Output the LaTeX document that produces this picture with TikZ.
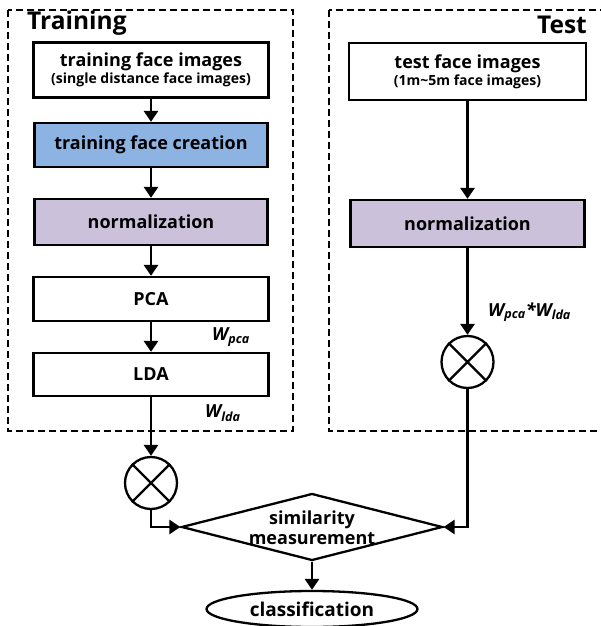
\documentclass[tikz,border=0pt]{standalone}
\usepackage{fontspec}
\setmainfont{Open Sans}
\usetikzlibrary{arrows.meta,shapes.geometric}
\definecolor{boxblue}{HTML}{8DB3E2}
\definecolor{boxlav}{HTML}{CCC1DA}
\tikzset{
  stepbox/.style={draw, line width=2.3pt, inner sep=0pt, font=\bfseries\fontsize{18}{20}\selectfont, align=center},
  frame/.style={draw, line width=2.1pt, dash pattern=on 7pt off 4pt},
  flow/.style={line width=2.8pt, -{Triangle[width=14pt,length=11pt]}},
  mult/.style={circle, draw, line width=2.3pt, minimum size=52pt, inner sep=0pt},
  wlab/.style={font=\bfseries\itshape\fontsize{18}{20}\selectfont, inner sep=0pt},
  title/.style={font=\bfseries\fontsize{24.5}{26}\selectfont, inner sep=0pt}
}
\newcommand{\subtxt}[1]{{\fontsize{14}{15}\selectfont #1}}
\begin{document}
\begin{tikzpicture}[x=1pt,y=-1pt]
\useasboundingbox (0,0) rectangle (601,626);
% frames
\draw[frame] (8,10) rectangle (293,431);
\draw[frame] (329,10) rectangle (608,431);
\node[title, anchor=west] (trainlab) at (27,23) {Training};
\node[title, anchor=east] (testlab) at (587,25) {Test};
% training column
\node[stepbox, minimum width=235pt, minimum height=55pt] (b1) at (151,70) {training face images\\[-3pt]\subtxt{(single distance face images)}};
\node[stepbox, fill=boxblue, minimum width=233pt, minimum height=44pt] (b2) at (151,145) {training face creation};
\node[stepbox, fill=boxlav, minimum width=233pt, minimum height=46pt] (b3) at (151,222) {normalization};
\node[stepbox, minimum width=235pt, minimum height=44pt] (pca) at (151,299) {PCA};
\node[stepbox, minimum width=235pt, minimum height=43pt] (lda) at (151,374.5) {LDA};
\node[wlab, anchor=west] (wpca) at (212,337) {W\textsubscript{pca}};
\node[wlab, anchor=west] (wlda) at (205,413) {W\textsubscript{lda}};
\node[mult] (m1) at (151,483) {};
\draw[line width=2.3pt] (m1.45) -- (m1.225) (m1.135) -- (m1.315);
% test column
\node[stepbox, minimum width=237pt, minimum height=57pt] (t1) at (467.5,71.5) {test face images\\[-3pt]\subtxt{(1m\textasciitilde5m face images)}};
\node[stepbox, fill=boxlav, minimum width=234pt, minimum height=47pt] (t2) at (467.5,223.5) {normalization};
\node[wlab, anchor=west] (wpl) at (488,312) {W\textsubscript{pca}*W\textsubscript{lda}};
\node[mult] (m2) at (467.5,362) {};
\draw[line width=2.3pt] (m2.45) -- (m2.225) (m2.135) -- (m2.315);
% bottom
\node[diamond, draw, line width=2.3pt, minimum width=261pt, minimum height=67pt, inner sep=0pt] (sim) at (312,527) {};
\node[font=\bfseries\fontsize{18}{20}\selectfont, align=center, inner sep=0pt] (simtxt) at (312,528) {similarity\\measurement};
\node[ellipse, draw, line width=2.3pt, minimum width=211pt, minimum height=36pt, inner sep=0pt, font=\bfseries\fontsize{19}{21}\selectfont] (cls) at (312,609) {classification};
% connectors
\draw[flow] (b1) -- (b2);
\draw[flow] (b2) -- (b3);
\draw[flow] (b3) -- (pca);
\draw[flow] (pca) -- (lda);
\draw[flow] (lda) -- (m1);
\draw[flow] (m1.south) |- (sim.west);
\draw[flow] (t1) -- (t2);
\draw[flow] (t2) -- (m2);
\draw[flow] (m2.south) |- (sim.east);
\draw[flow] (sim) -- (cls);
\end{tikzpicture}
\end{document}
